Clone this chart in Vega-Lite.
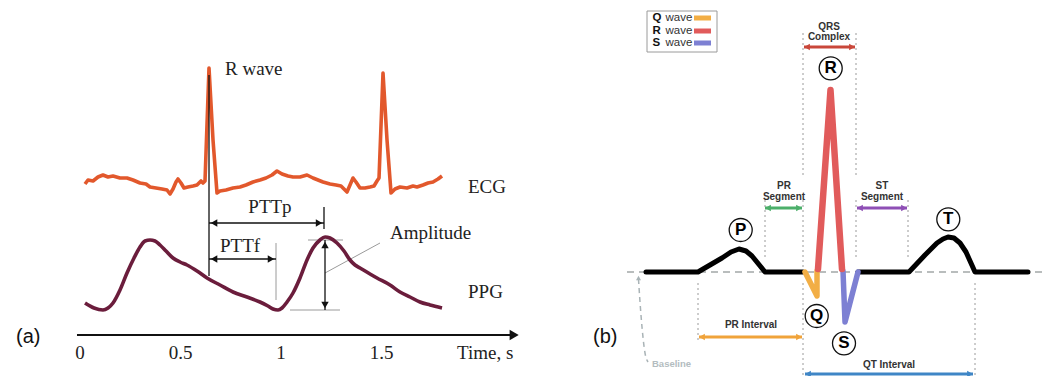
{
  "$schema": "https://vega.github.io/schema/vega-lite/v6.json",
  "padding": 0,
  "spacing": 0,
  "background": "white",
  "config": {"view": {"stroke": null}, "axis": {"disable": true}, "legend": {"disable": true}, "concat": {"spacing": 0}},
  "datasets": {
    "ecg": [
      {"x":0.0249,"y":192},{"x":0.0398,"y":196},{"x":0.0647,"y":195},{"x":0.0896,"y":199},{"x":0.1144,"y":201},{"x":0.1393,"y":199},{"x":0.1642,"y":200},{"x":0.199,"y":198},{"x":0.2338,"y":198},{"x":0.2637,"y":196},{"x":0.2985,"y":193},{"x":0.3284,"y":192},{"x":0.3483,"y":189},{"x":0.3781,"y":188},{"x":0.408,"y":187},{"x":0.4328,"y":186},{"x":0.4478,"y":182},{"x":0.4627,"y":187},{"x":0.4776,"y":194},{"x":0.4876,"y":197},{"x":0.5025,"y":193},{"x":0.5174,"y":188},{"x":0.5373,"y":189},{"x":0.5622,"y":190},{"x":0.5821,"y":191},{"x":0.602,"y":195},{"x":0.6119,"y":193},{"x":0.6219,"y":195},{"x":0.6418,"y":308},{"x":0.6617,"y":236},{"x":0.6816,"y":183},{"x":0.6965,"y":185},{"x":0.7264,"y":186},{"x":0.7612,"y":188},{"x":0.796,"y":189},{"x":0.8259,"y":191},{"x":0.8607,"y":194},{"x":0.8955,"y":196},{"x":0.9254,"y":198},{"x":0.9552,"y":201},{"x":0.9801,"y":205},{"x":1.005,"y":202},{"x":1.0348,"y":200},{"x":1.0597,"y":199},{"x":1.0945,"y":199},{"x":1.1294,"y":201},{"x":1.1592,"y":198},{"x":1.1841,"y":196},{"x":1.209,"y":194},{"x":1.2438,"y":192},{"x":1.2736,"y":191},{"x":1.2985,"y":190},{"x":1.3134,"y":187},{"x":1.3284,"y":184},{"x":1.3433,"y":191},{"x":1.3582,"y":198},{"x":1.3731,"y":194},{"x":1.393,"y":188},{"x":1.4179,"y":188},{"x":1.4428,"y":189},{"x":1.4627,"y":190},{"x":1.4776,"y":195},{"x":1.4876,"y":198},{"x":1.5075,"y":303},{"x":1.5274,"y":236},{"x":1.5473,"y":183},{"x":1.5672,"y":187},{"x":1.592,"y":189},{"x":1.6269,"y":188},{"x":1.6567,"y":190},{"x":1.6766,"y":189},{"x":1.7065,"y":191},{"x":1.7313,"y":193},{"x":1.7562,"y":194},{"x":1.7811,"y":197},{"x":1.801,"y":200}
    ],
    "ppg": [
      {"x":0.0249,"y":73},{"x":0.0697,"y":68},{"x":0.1144,"y":66},{"x":0.1393,"y":68},{"x":0.1642,"y":73},{"x":0.199,"y":86},{"x":0.2338,"y":103},{"x":0.2687,"y":118},{"x":0.2985,"y":129},{"x":0.3234,"y":135},{"x":0.3483,"y":136},{"x":0.3731,"y":135},{"x":0.398,"y":131},{"x":0.4279,"y":125},{"x":0.4627,"y":118},{"x":0.4975,"y":114},{"x":0.5323,"y":111},{"x":0.5821,"y":105},{"x":0.6318,"y":98},{"x":0.6965,"y":91},{"x":0.7612,"y":84},{"x":0.8308,"y":79},{"x":0.8955,"y":74},{"x":0.9353,"y":70},{"x":0.9602,"y":67},{"x":0.9851,"y":66},{"x":1.005,"y":68},{"x":1.0299,"y":74},{"x":1.0597,"y":83},{"x":1.0945,"y":98},{"x":1.1294,"y":116},{"x":1.1592,"y":128},{"x":1.194,"y":136},{"x":1.2189,"y":139},{"x":1.2438,"y":138},{"x":1.2786,"y":133},{"x":1.3134,"y":125},{"x":1.3433,"y":116},{"x":1.3682,"y":111},{"x":1.393,"y":108},{"x":1.4428,"y":102},{"x":1.4776,"y":98},{"x":1.5423,"y":91},{"x":1.592,"y":84},{"x":1.6418,"y":79},{"x":1.6915,"y":74},{"x":1.7413,"y":71},{"x":1.801,"y":68}
    ],
    "blackA": [
      {"x":0.6418,"y":301,"x2":0.6418,"y2":100},
      {"x":0.6418,"y":153,"x2":1.2139,"y2":153},
      {"x":1.2139,"y":169,"x2":1.2139,"y2":147},
      {"x":0.6418,"y":117,"x2":0.9751,"y2":117},
      {"x":1.2189,"y":136,"x2":1.2189,"y2":66}
    ],
    "grayA": [
      {"x":0.9751,"y":133,"x2":0.9751,"y2":76},
      {"x":1.1343,"y":136,"x2":1.3085,"y2":136},
      {"x":1.0448,"y":66,"x2":1.2935,"y2":66},
      {"x":1.2189,"y":103,"x2":1.4925,"y2":133}
    ],
    "headsA": [
      {"x":0.667,"y":153,"dir":"left"},{"x":1.189,"y":153,"dir":"right"},
      {"x":0.667,"y":117,"dir":"left"},{"x":0.95,"y":117,"dir":"right"},
      {"x":1.2189,"y":131,"dir":"up"},{"x":1.2189,"y":71,"dir":"down"}
    ],
    "axisA": [{"x":-0.015,"y":41,"x2":2.15,"y2":41}],
    "axisHeadA": [{"x":2.16,"y":41,"dir":"right"}],
    "serifLeftA": [
      {"x":0.7214,"y":307,"label":"R wave"},
      {"x":1.5423,"y":143,"label":"Amplitude"},
      {"x":1.9303,"y":189,"label":"ECG"},
      {"x":1.9303,"y":84,"label":"PPG"},
      {"x":1.876,"y":23,"label":"Time, s"}
    ],
    "serifCenterA": [
      {"x":0.945,"y":169,"label":"PTTp"},
      {"x":0.796,"y":130,"label":"PTTf"},
      {"x":0,"y":23,"label":"0"},
      {"x":0.5,"y":23,"label":"0.5"},
      {"x":1,"y":23,"label":"1"},
      {"x":1.5,"y":23,"label":"1.5"}
    ],
    "panelA": [{"x":-0.318,"y":39,"label":"(a)"}],
    "panelB": [{"x":593,"y":39,"label":"(b)"}],
    "baseB": [{"x":627,"y":104,"x2":1047,"y2":104}],
    "dotsB": [
      {"x":803,"y":343,"x2":803,"y2":199},{"x":803,"y":176,"x2":803,"y2":104},{"x":803,"y":93,"x2":803,"y2":0},
      {"x":856,"y":343,"x2":856,"y2":199},{"x":856,"y":176,"x2":856,"y2":118},
      {"x":765,"y":176,"x2":765,"y2":118},{"x":908,"y":176,"x2":908,"y2":118},
      {"x":698,"y":93,"x2":698,"y2":34},{"x":975,"y":93,"x2":975,"y2":0}
    ],
    "traceB": [
      {"seg":1,"x":646,"y":104},{"seg":1,"x":698,"y":104},{"seg":1,"x":710,"y":111},{"seg":1,"x":722,"y":118},{"seg":1,"x":731,"y":124},{"seg":1,"x":739,"y":127},{"seg":1,"x":746,"y":125},{"seg":1,"x":752,"y":120},{"seg":1,"x":765,"y":104},{"seg":1,"x":803,"y":104},
      {"seg":2,"x":858,"y":104},{"seg":2,"x":909,"y":104},{"seg":2,"x":925,"y":121},{"seg":2,"x":937,"y":133},{"seg":2,"x":943,"y":137},{"seg":2,"x":948,"y":139},{"seg":2,"x":954,"y":138},{"seg":2,"x":960,"y":133},{"seg":2,"x":966,"y":124},{"seg":2,"x":975,"y":104},{"seg":2,"x":1028,"y":104}
    ],
    "qsB": [
      {"k":"Q","x":805,"y":104},{"k":"Q","x":817,"y":80},{"k":"Q","x":817.01,"y":105},
      {"k":"S","x":843,"y":105},{"k":"S","x":845,"y":54},{"k":"S","x":858,"y":104}
    ],
    "rB": [
      {"k":"R","x":818,"y":107},{"k":"R","x":830.5,"y":286},{"k":"R","x":842,"y":107}
    ],
    "circlesB": [
      {"x":740.7,"y":146,"label":"P"},{"x":830.7,"y":307.7,"label":"R"},{"x":948.3,"y":156.7,"label":"T"},{"x":816.7,"y":60,"label":"Q"},{"x":844,"y":32.7,"label":"S"}
    ],
    "arrowsB": [
      {"k":"QRS","x":804,"y":329,"x2":855,"y2":329},
      {"k":"PRS","x":765,"y":168,"x2":802,"y2":168},
      {"k":"STS","x":857,"y":168,"x2":907,"y2":168},
      {"k":"PRI","x":699,"y":39,"x2":802,"y2":39},
      {"k":"QTI","x":805,"y":2,"x2":973,"y2":2}
    ],
    "headsB": [
      {"k":"QRS","x":807,"y":329,"dir":"left"},{"k":"QRS","x":852,"y":329,"dir":"right"},
      {"k":"PRS","x":768,"y":168,"dir":"left"},{"k":"PRS","x":799,"y":168,"dir":"right"},
      {"k":"STS","x":860,"y":168,"dir":"left"},{"k":"STS","x":904,"y":168,"dir":"right"},
      {"k":"PRI","x":702,"y":39,"dir":"left"},{"k":"PRI","x":799,"y":39,"dir":"right"},
      {"k":"QTI","x":808,"y":2,"dir":"left"},{"k":"QTI","x":970,"y":2,"dir":"right"}
    ],
    "labelsB": [
      {"x":829,"y":349,"label":"QRS"},{"x":829,"y":339,"label":"Complex"},
      {"x":784,"y":190,"label":"PR"},{"x":784,"y":179.5,"label":"Segment"},
      {"x":882,"y":190,"label":"ST"},{"x":882,"y":179.5,"label":"Segment"},
      {"x":751,"y":51,"label":"PR Interval"},
      {"x":889,"y":11,"label":"QT Interval"}
    ],
    "legendBox": [{"x":647,"y":365,"x2":717,"y2":324}],
    "legendLetters": [{"x":652.5,"y":358,"label":"Q"},{"x":652.5,"y":345,"label":"R"},{"x":652.5,"y":333,"label":"S"}],
    "legendWords": [{"x":665.5,"y":358,"label":"wave"},{"x":665.5,"y":345,"label":"wave"},{"x":665.5,"y":333,"label":"wave"}],
    "legendSwatch": [
      {"k":"Q","x":694,"y":358,"x2":711,"y2":358},
      {"k":"R","x":694,"y":345,"x2":711,"y2":345},
      {"k":"S","x":694,"y":333,"x2":711,"y2":333}
    ],
    "baselineCurve": [{"x":638.5,"y":97},{"x":639,"y":89},{"x":642,"y":49},{"x":645,"y":23},{"x":648,"y":14}],
    "baselineHead": [{"x":638.5,"y":98,"dir":"up"}],
    "baselineLabel": [{"x":652,"y":12,"label":"Baseline"}]
  },
  "hconcat": [
    {
      "width": 520,
      "height": 376,
      "encoding": {
        "x": {"field": "x", "type": "quantitative", "scale": {"domain": [-0.398, 2.189], "nice": false, "zero": false}},
        "y": {"field": "y", "type": "quantitative", "scale": {"domain": [0, 376], "nice": false, "zero": false}}
      },
      "layer": [
        {"data": {"name": "grayA"}, "mark": {"type": "rule", "color": "#9a9a9a", "strokeWidth": 1}, "encoding": {"x2": {"field": "x2"}, "y2": {"field": "y2"}}},
        {"data": {"name": "ecg"}, "mark": {"type": "line", "color": "#E2582C", "strokeWidth": 3.6, "strokeJoin": "round"}, "encoding": {}},
        {"data": {"name": "ppg"}, "mark": {"type": "line", "color": "#6B1D3C", "strokeWidth": 3.6, "interpolate": "monotone"}, "encoding": {}},
        {"data": {"name": "blackA"}, "mark": {"type": "rule", "color": "#111", "strokeWidth": 1.3}, "encoding": {"x2": {"field": "x2"}, "y2": {"field": "y2"}}},
        {"data": {"name": "headsA"}, "mark": {"type": "point", "filled": true, "color": "#111", "size": 55, "opacity": 1}, "encoding": {"shape": {"field": "dir", "type": "nominal", "scale": {"domain": ["left","right","up","down"], "range": ["triangle-left","triangle-right","triangle-up","triangle-down"]}}}},
        {"data": {"name": "axisA"}, "mark": {"type": "rule", "color": "#111", "strokeWidth": 2}, "encoding": {"x2": {"field": "x2"}, "y2": {"field": "y2"}}},
        {"data": {"name": "axisHeadA"}, "mark": {"type": "point", "filled": true, "color": "#111", "size": 110, "opacity": 1}, "encoding": {"shape": {"field": "dir", "type": "nominal", "scale": {"domain": ["left","right","up","down"], "range": ["triangle-left","triangle-right","triangle-up","triangle-down"]}}}},
        {"data": {"name": "serifLeftA"}, "mark": {"type": "text", "font": "Liberation Serif", "fontSize": 19, "align": "left", "baseline": "middle", "color": "#222"}, "encoding": {"text": {"field": "label"}}},
        {"data": {"name": "serifCenterA"}, "mark": {"type": "text", "font": "Liberation Serif", "fontSize": 19, "align": "center", "baseline": "middle", "color": "#222"}, "encoding": {"text": {"field": "label"}}},
        {"data": {"name": "panelA"}, "mark": {"type": "text", "font": "Liberation Sans", "fontSize": 20, "align": "left", "baseline": "middle", "color": "#111"}, "encoding": {"text": {"field": "label"}}}
      ]
    },
    {
      "width": 533,
      "height": 376,
      "encoding": {
        "x": {"field": "x", "type": "quantitative", "scale": {"domain": [520, 1053], "nice": false, "zero": false}},
        "y": {"field": "y", "type": "quantitative", "scale": {"domain": [0, 376], "nice": false, "zero": false}}
      },
      "layer": [
        {"data": {"name": "dotsB"}, "mark": {"type": "rule", "color": "#9a9a9a", "strokeWidth": 1, "strokeDash": [2, 3]}, "encoding": {"x2": {"field": "x2"}, "y2": {"field": "y2"}}},
        {"data": {"name": "baseB"}, "mark": {"type": "rule", "color": "#a3a8a8", "strokeWidth": 1.3, "strokeDash": [7, 5]}, "encoding": {"x2": {"field": "x2"}, "y2": {"field": "y2"}}},
        {"data": {"name": "traceB"}, "mark": {"type": "line", "color": "#000", "strokeWidth": 5, "strokeCap": "round", "strokeJoin": "round"}, "encoding": {"detail": {"field": "seg"}}},
        {"data": {"name": "qsB"}, "mark": {"type": "line", "strokeWidth": 5.5, "strokeCap": "round", "strokeJoin": "round"}, "encoding": {"color": {"field": "k", "type": "nominal", "scale": {"domain": ["Q","R","S","QRS","PRS","STS","PRI","QTI"], "range": ["#F2AE45","#E15B5B","#7D80D3","#C9473A","#4CAF6A","#8E4FB5","#F0A33A","#3F86C6"]}}}},
        {"data": {"name": "rB"}, "mark": {"type": "line", "strokeWidth": 6.5, "strokeCap": "round", "strokeJoin": "round"}, "encoding": {"color": {"field": "k", "type": "nominal", "scale": {"domain": ["Q","R","S","QRS","PRS","STS","PRI","QTI"], "range": ["#F2AE45","#E15B5B","#7D80D3","#C9473A","#4CAF6A","#8E4FB5","#F0A33A","#3F86C6"]}}}},
        {"data": {"name": "arrowsB"}, "mark": {"type": "rule", "strokeWidth": 3}, "encoding": {"x2": {"field": "x2"}, "y2": {"field": "y2"}, "color": {"field": "k", "type": "nominal", "scale": {"domain": ["Q","R","S","QRS","PRS","STS","PRI","QTI"], "range": ["#F2AE45","#E15B5B","#7D80D3","#C9473A","#4CAF6A","#8E4FB5","#F0A33A","#3F86C6"]}}}},
        {"data": {"name": "headsB"}, "mark": {"type": "point", "filled": true, "size": 45, "opacity": 1}, "encoding": {"shape": {"field": "dir", "type": "nominal", "scale": {"domain": ["left","right","up","down"], "range": ["triangle-left","triangle-right","triangle-up","triangle-down"]}}, "color": {"field": "k", "type": "nominal", "scale": {"domain": ["Q","R","S","QRS","PRS","STS","PRI","QTI"], "range": ["#F2AE45","#E15B5B","#7D80D3","#C9473A","#4CAF6A","#8E4FB5","#F0A33A","#3F86C6"]}}}},
        {"data": {"name": "labelsB"}, "mark": {"type": "text", "font": "Liberation Sans", "fontWeight": "bold", "fontSize": 10, "align": "center", "baseline": "middle", "color": "#333"}, "encoding": {"text": {"field": "label"}}},
        {"data": {"name": "circlesB"}, "mark": {"type": "point", "shape": "circle", "size": 529, "fill": "white", "stroke": "#111", "strokeWidth": 1.3, "opacity": 1, "filled": false, "fillOpacity": 1}, "encoding": {}},
        {"data": {"name": "circlesB"}, "mark": {"type": "text", "font": "Liberation Sans", "fontWeight": "bold", "fontSize": 17, "align": "center", "baseline": "middle", "color": "#000"}, "encoding": {"text": {"field": "label"}}},
        {"data": {"name": "legendBox"}, "mark": {"type": "rect", "fill": "white", "stroke": "#9a9a9a", "strokeWidth": 1}, "encoding": {"x2": {"field": "x2"}, "y2": {"field": "y2"}}},
        {"data": {"name": "legendLetters"}, "mark": {"type": "text", "font": "Liberation Sans", "fontWeight": "bold", "fontSize": 11.5, "align": "left", "baseline": "middle", "color": "#111"}, "encoding": {"text": {"field": "label"}}},
        {"data": {"name": "legendWords"}, "mark": {"type": "text", "font": "Liberation Sans", "fontSize": 11.5, "align": "left", "baseline": "middle", "color": "#333"}, "encoding": {"text": {"field": "label"}}},
        {"data": {"name": "legendSwatch"}, "mark": {"type": "rule", "strokeWidth": 5}, "encoding": {"x2": {"field": "x2"}, "y2": {"field": "y2"}, "color": {"field": "k", "type": "nominal", "scale": {"domain": ["Q","R","S","QRS","PRS","STS","PRI","QTI"], "range": ["#F2AE45","#E15B5B","#7D80D3","#C9473A","#4CAF6A","#8E4FB5","#F0A33A","#3F86C6"]}}}},
        {"data": {"name": "baselineCurve"}, "mark": {"type": "line", "color": "#a9b3b6", "strokeWidth": 1.5, "strokeDash": [5, 4], "interpolate": "monotone"}, "encoding": {}},
        {"data": {"name": "baselineHead"}, "mark": {"type": "point", "filled": true, "color": "#a9b3b6", "size": 25, "opacity": 1}, "encoding": {"shape": {"field": "dir", "type": "nominal", "scale": {"domain": ["left","right","up","down"], "range": ["triangle-left","triangle-right","triangle-up","triangle-down"]}}}},
        {"data": {"name": "baselineLabel"}, "mark": {"type": "text", "font": "Liberation Sans", "fontWeight": "bold", "fontSize": 9.5, "align": "left", "baseline": "middle", "color": "#b3bcc0"}, "encoding": {"text": {"field": "label"}}},
        {"data": {"name": "panelB"}, "mark": {"type": "text", "font": "Liberation Sans", "fontSize": 20, "align": "left", "baseline": "middle", "color": "#111"}, "encoding": {"text": {"field": "label"}}}
      ]
    }
  ]
}
